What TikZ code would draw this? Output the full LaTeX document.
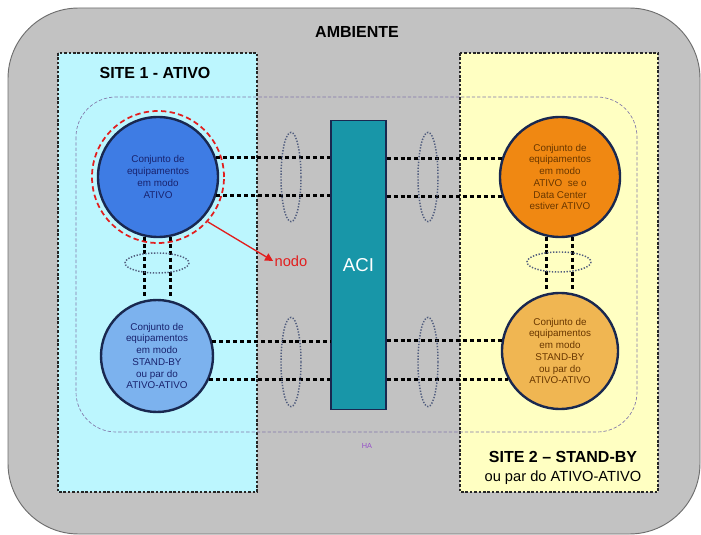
\documentclass[tikz,border=0pt]{standalone}
\usepackage{fontspec}
\setmainfont{Liberation Sans}
\usepackage{tikz}
\usetikzlibrary{arrows.meta}

\definecolor{ambgray}{RGB}{194,194,194}
\definecolor{ambedge}{RGB}{110,110,110}
\definecolor{siteacyan}{RGB}{188,246,254}
\definecolor{sitebyellow}{RGB}{255,255,194}
\definecolor{hapurple}{RGB}{130,120,170}
\definecolor{navyedge}{RGB}{25,40,80}
\definecolor{ativoblue}{RGB}{62,124,228}
\definecolor{standblue}{RGB}{124,178,238}
\definecolor{ativoorange}{RGB}{240,136,18}
\definecolor{standorange}{RGB}{240,182,82}
\definecolor{aciteal}{RGB}{24,150,168}
\definecolor{bundlegray}{RGB}{80,92,125}
\definecolor{nodored}{RGB}{226,30,30}

\begin{document}
\begin{tikzpicture}[x=0.75pt,y=0.75pt,yscale=-1,xscale=1,
  equip/.style={circle,draw=navyedge,line width=1.8pt,inner sep=0pt,align=center,font=\fontsize{7.4}{8.8}\selectfont},
  link/.style={line width=2.2pt,dash pattern=on 3pt off 2.2pt},
  bundle/.style={draw=bundlegray,line width=1.1pt,dash pattern=on 1pt off 1.2pt},
  sitebox/.style={draw=black!85,line width=0.8pt,dash pattern=on 2pt off 1.3pt}]
\path[use as bounding box] (0,0) rectangle (701,535);

%Ambiente
\draw [fill=ambgray,draw=ambedge,line width=0.7pt,rounded corners=53pt] (8,8) rectangle (700,534);
%Sites
\draw [sitebox,fill=siteacyan] (58,53) rectangle (257,492);
\draw [sitebox,fill=sitebyellow] (460,53) rectangle (658,492);
%HA
\draw [draw=hapurple,line width=0.5pt,dash pattern=on 2.5pt off 1.5pt,rounded corners=30pt] (76,97) rectangle (637,432);

%ACI
\node (aci) at (358.5,265) [draw=navyedge,line width=1.2pt,fill=aciteal,minimum width=41pt,minimum height=217pt,inner sep=0pt,text=white,font=\fontsize{14}{16}\selectfont] {ACI};

%Circles
\node (act1) at (158,177) [equip,fill=ativoblue,minimum size=90pt,text={rgb,255:red,25;green,35;blue,110}] {Conjunto de\\equipamentos\\em modo\\ATIVO};
\node (sb1) at (157,356) [equip,fill=standblue,minimum size=84pt,text={rgb,255:red,25;green,35;blue,110}] {Conjunto de\\equipamentos\\em modo\\STAND-BY\\ou par do\\ATIVO-ATIVO};
\node (act2) at (560,177) [equip,fill=ativoorange,minimum size=90pt,text={rgb,255:red,105;green,55;blue,0}] {Conjunto de\\equipamentos\\em modo\\ATIVO\ \ se o\\Data Center\\estiver ATIVO};
\node (sb2) at (560,351) [equip,fill=standorange,minimum size=87pt,text={rgb,255:red,105;green,55;blue,0}] {Conjunto de\\equipamentos\\em modo\\STAND-BY\\ou par do\\ATIVO-ATIVO};

%Links to ACI
\draw [link] (act1.19) -- (act1.19 -| aci.west);
\draw [link] (act1.-18) -- (act1.-18 -| aci.west);
\draw [link] (aci.east |- act2.162) -- (act2.162);
\draw [link] (aci.east |- act2.199) -- (act2.199);
\draw [link] (sb1.15) -- (sb1.15 -| aci.west);
\draw [link] (sb1.-24) -- (sb1.-24 -| aci.west);
\draw [link] (aci.east |- sb2.170) -- (sb2.170);
\draw [link] (aci.east |- sb2.209) -- (sb2.209);
%Links between sets
\draw [link] (act1.257) -- (act1.257 |- sb1.north);
\draw [link] (act1.282) -- (act1.282 |- sb1.north);
\draw [link] (act2.257) -- (act2.257 |- sb2.north);
\draw [link] (act2.282) -- (act2.282 |- sb2.north);

%Bundles
\draw [bundle] (291,177) ellipse (7.5pt and 33.5pt);
\draw [bundle] (428,177) ellipse (7.5pt and 33.5pt);
\draw [bundle] (291,362) ellipse (7.5pt and 33.5pt);
\draw [bundle] (428,362) ellipse (7.5pt and 33.5pt);
\draw [bundle] (157,263) ellipse (24pt and 7.5pt);
\draw [bundle] (559,262) ellipse (24pt and 7.5pt);

%Nodo
\node (ring) at (158,177) [circle,draw=nodored,line width=1.3pt,dash pattern=on 4pt off 2.5pt,minimum size=99pt,inner sep=0pt] {};
\node (nodo) at (291,261) [text=nodored,font=\fontsize{11}{13}\selectfont,inner sep=1pt] {nodo};
\draw [nodored,line width=1pt,-{Triangle[length=6pt,width=6pt]}] (ring.-42) -- (nodo.west);

% Text Node
\node (amb) at (357,32) [font=\bfseries\fontsize{12}{14}\selectfont] {AMBIENTE};
% Text Node
\node (s1lbl) at (155,73) [font=\bfseries\fontsize{12}{14}\selectfont] {SITE 1 - ATIVO};
% Text Node
\node (s2lbl) at (563,457) [font=\bfseries\fontsize{12}{14}\selectfont] {SITE 2 -- STAND-BY};
% Text Node
\node (s2sub) at (563,478) [font=\fontsize{11}{13}\selectfont] {ou par do ATIVO-ATIVO};
% Text Node
\node (ha) at (367,446) [text={rgb,255:red,150;green,80;blue,200},font=\fontsize{5.5}{6}\selectfont] {HA};

\end{tikzpicture}
\end{document}
